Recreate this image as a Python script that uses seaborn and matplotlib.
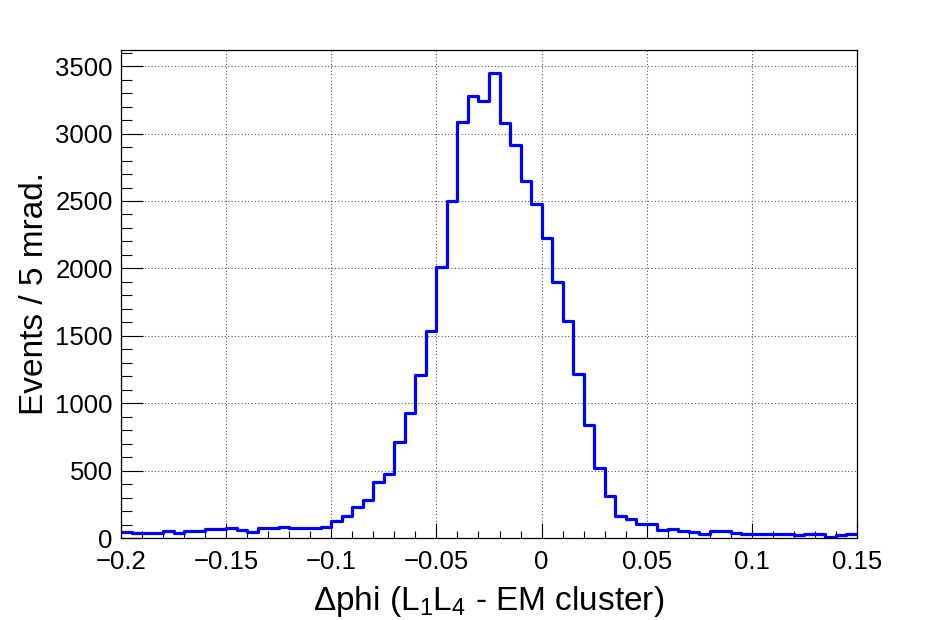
import matplotlib
matplotlib.use("Agg")
import matplotlib.pyplot as plt
from matplotlib.ticker import MultipleLocator, FuncFormatter
import seaborn as sns
import numpy as np
import pandas as pd

# histogram of delta phi, 70 bins of 5 mrad from -0.2 to 0.15
bin_lo = -0.2
bin_hi = 0.15
n_bins = 70
counts = [44, 34, 34, 34, 54, 34, 54, 54, 66, 66,
          74, 59, 44, 74, 74, 81, 74, 74, 74, 81,
          128, 165, 230, 285, 414, 475, 714, 924, 1212, 1534,
          2007, 2500, 3086, 3281, 3244, 3448, 3079, 2914, 2648, 2480,
          2222, 1897, 1608, 1214, 837, 517, 308, 160, 140, 103,
          103, 62, 69, 54, 44, 30, 54, 54, 37, 30,
          32, 30, 32, 32, 22, 30, 30, 10, 20, 30]

edges = np.linspace(bin_lo, bin_hi, n_bins + 1)
centers = 0.5 * (edges[:-1] + edges[1:])
df = pd.DataFrame({'dphi': centers, 'n': counts})

sns.set_style("white")
plt.rcParams['font.family'] = ['Liberation Sans', 'DejaVu Sans']
plt.rcParams['mathtext.fontset'] = 'custom'
plt.rcParams['mathtext.rm'] = 'Liberation Sans'
plt.rcParams['mathtext.it'] = 'Liberation Sans:italic'
plt.rcParams['text.color'] = 'black'
plt.rcParams['axes.labelcolor'] = 'black'
plt.rcParams['xtick.color'] = 'black'
plt.rcParams['ytick.color'] = 'black'

fig = plt.figure(figsize=(9.32, 6.2), dpi=100)
ax = fig.add_axes([121/932, 1 - 538/620, (857-121)/932, (538-50)/620])

sns.histplot(data=df, x='dphi', weights='n', bins=n_bins, binrange=(bin_lo, bin_hi),
             element="step", fill=False, color=(0, 0, 1), linewidth=2.3, ax=ax)

ax.set_xlim(bin_lo, bin_hi)
ax.set_ylim(0, 3620)

#ROOT style ticks: inside, only left and bottom
ax.xaxis.set_major_locator(MultipleLocator(0.05))
ax.xaxis.set_minor_locator(MultipleLocator(0.01))
ax.yaxis.set_major_locator(MultipleLocator(500))
ax.yaxis.set_minor_locator(MultipleLocator(100))

def fmt(v, pos):
    v = round(v, 4) + 0.0
    return ('%g' % v).replace('-', '\u2212')

ax.xaxis.set_major_formatter(FuncFormatter(fmt))
ax.tick_params(axis='x', which='major', direction='in', length=10.5, width=0.8,
               labelsize=18.5, pad=8.5, bottom=True, top=False)
ax.tick_params(axis='x', which='minor', direction='in', length=5.3, width=0.8,
               bottom=True, top=False)
ax.tick_params(axis='y', which='major', direction='in', length=15.8, width=0.8,
               labelsize=18.5, pad=6, left=True, right=False)
ax.tick_params(axis='y', which='minor', direction='in', length=8, width=0.8,
               left=True, right=False)

for s in ax.spines.values():
    s.set_linewidth(0.9)
    s.set_color('black')

ax.grid(True, which='major', linestyle=(0, (1, 2)), color='#555555', linewidth=0.8)
ax.set_axisbelow(True)

ax.set_xlabel(r'$\Delta$phi (L$_1$L$_4$ - EM cluster)', fontsize=24, labelpad=7)
ax.set_ylabel('Events / 5 mrad.', fontsize=24, labelpad=4)

fig.savefig("out.png", dpi=100, facecolor='white')
